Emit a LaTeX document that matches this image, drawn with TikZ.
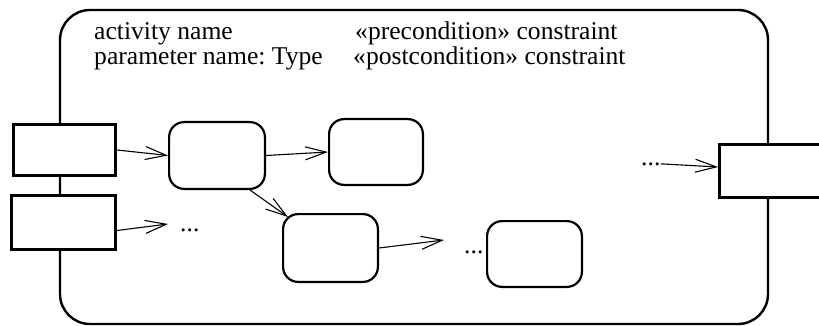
\documentclass[tikz,border=0pt]{standalone}
\usepackage{fontspec}
\setmainfont{Liberation Serif}
\usetikzlibrary{arrows.meta,calc}
\frenchspacing

\begin{document}
\begin{tikzpicture}[
  x=1pt, y=-1pt,
  font=\fontsize{25.6}{26}\selectfont,
  >={Straight Barb[length=21pt,width=13pt]},
  actframe/.style={rectangle, rounded corners=30pt, draw=black, line width=2.4pt,
                   inner sep=0pt},
  pin/.style={rectangle, draw=black, fill=white, line width=3.4pt, inner sep=0pt},
  action/.style={rectangle, rounded corners=15pt, draw=black, fill=white,
                 line width=2.2pt, inner sep=0pt},
  flow/.style={->, draw=black, line width=1.1pt},
  lbl/.style={inner sep=0pt, anchor=base west},
]
\useasboundingbox (0,0) rectangle (819,326);
% Activity frame
\node[actframe, minimum width=708, minimum height=314] (activity) at (414,167) {};
% Header texts
\node[lbl] (actname) at (94,40) {activity name};
\node[lbl] (paramname) at (94,65) {parameter name: Type};
\node[lbl] (precond) at (355,40) {«precondition» constraint};
\node[lbl] (postcond) at (353,65) {«postcondition» constraint};
% Parameter pins
\node[pin, minimum width=101.6, minimum height=50.6] (pin1) at (64.5,150) {};
\node[pin, minimum width=103.6, minimum height=53.6] (pin2) at (63.5,222.5) {};
\node[pin, minimum width=120.3, minimum height=52.6] (pin3) at (779.9,171) {};
% Actions
\node[action, minimum width=95.8, minimum height=66.8] (a1) at (217,155.5) {};
\node[action, minimum width=93.8, minimum height=65.8] (a2) at (376,152) {};
\node[action, minimum width=94.8, minimum height=67.8] (a3) at (330.5,248) {};
\node[action, minimum width=94.8, minimum height=65.8] (a4) at (534.5,254) {};
% Elided flows
\node[lbl] (dotsA) at (180,231) {...};
\node[lbl] (dotsB) at (464,253) {...};
\node[lbl] (dotsC) at (641,165) {...};
\coordinate (tipA) at (168,224);
\coordinate (tipB) at (444,240);
% edges
\draw[flow] (pin1.east) -- (a1.west);
\draw[flow] (a1.east) -- (a2.west);
\draw[flow] ($(a1.south)+(33,0)$) -- ($(a3.north west)+(6,4)$);
\draw[flow] ($(pin2.east)+(0,8)$) -- (tipA);
\draw[flow] (a3.east) -- (tipB);
\draw[flow] (dotsC.east) -- ($(pin3.west)+(0,-4)$);
\end{tikzpicture}
\end{document}
